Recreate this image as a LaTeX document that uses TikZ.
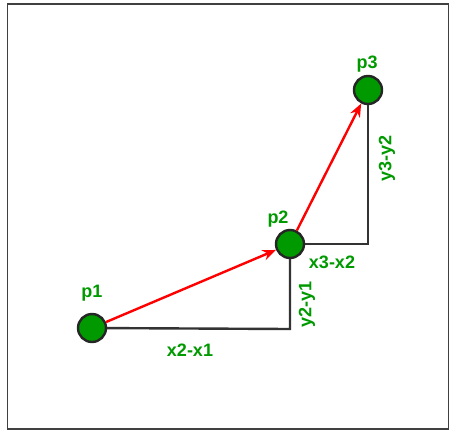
\documentclass[tikz,border=0pt]{standalone}
\usepackage{fontspec}
\setmainfont{Liberation Sans}
\usetikzlibrary{arrows.meta}
\definecolor{pgreen}{HTML}{009900}
\tikzset{
  pt/.style={circle,draw=black!85,line width=1.8pt,fill=pgreen,minimum size=21pt,inner sep=0pt},
  lbl/.style={text=pgreen,font=\fontsize{13.5}{15}\selectfont\bfseries,inner sep=0pt},
  comp/.style={draw=black!80,line width=1.8pt},
  vec/.style={draw=red,line width=1.8pt,-{Stealth[length=10pt,width=8pt]}},
}
\begin{document}
\begin{tikzpicture}[x=0.75pt,y=-0.75pt]
\useasboundingbox (0,0) rectangle (453,430);
\draw[draw=black!75,line width=0.9pt] (7.5,4) rectangle (448.5,429);
\node[pt] (p1) at (92,328) {};
\node[pt] (p2) at (290,244) {};
\node[pt] (p3) at (368,90) {};
\coordinate (c1) at (290,329);
\coordinate (c2) at (368,244);
\node[lbl] (l1) at (92,293) {p1};
\node[lbl] (l2) at (278,219) {p2};
\node[lbl] (l3) at (367,64) {p3};
\draw[comp] (p1) -- (c1) -- (p2);
\draw[comp] (p2) -- (c2) -- (p3);
\draw[vec] (p1) -- (p2);
\draw[vec] (p2) -- (p3);
\node[lbl] (dx1) at (190,350) {x2-x1};
\node[lbl,rotate=90] (dy1) at (307,304) {y2-y1};
\node[lbl] (dx2) at (332,262) {x3-x2};
\node[lbl,rotate=90] (dy2) at (387,158) {y3-y2};
\end{tikzpicture}
\end{document}
